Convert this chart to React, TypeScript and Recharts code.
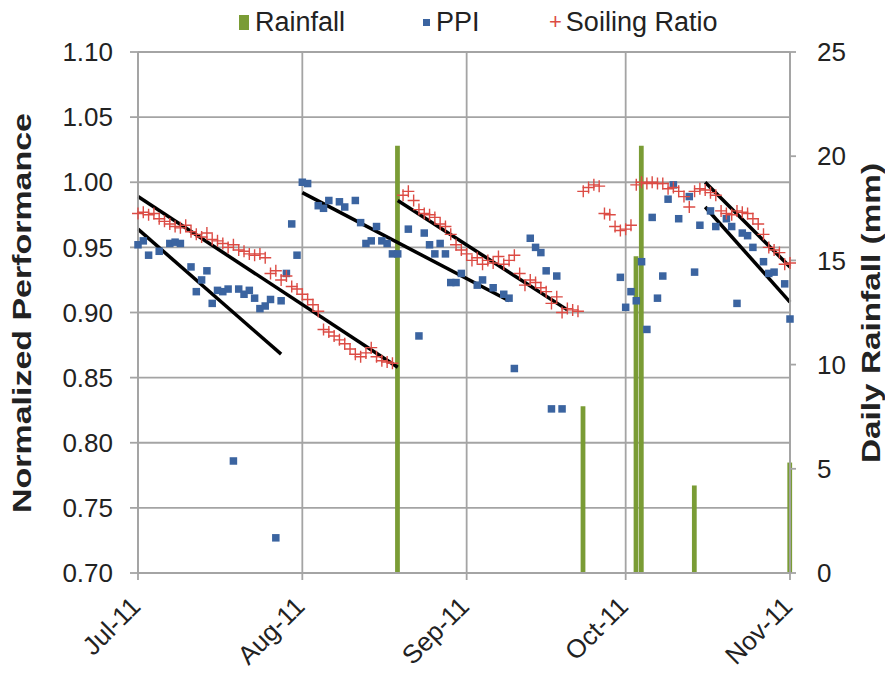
import { ComposedChart, Bar, Scatter, Line, XAxis, YAxis, CartesianGrid, Label } from 'recharts';

// day index 0 = 1 Jul 2011
const MONTH_TICKS = [0, 31, 62, 92, 123];
const MONTH_LABELS = ['Jul-11', 'Aug-11', 'Sep-11', 'Oct-11', 'Nov-11'];
const PERF_TICKS = [0.7, 0.75, 0.8, 0.85, 0.9, 0.95, 1.0, 1.05, 1.1];
const RAIN_TICKS = [0, 5, 10, 15, 20, 25];

const rainDays = [49, 84, 94, 95, 105, 123];
const rainMm = [20.5, 8.0, 15.2, 20.5, 4.2, 5.3];

const ppiDays = [
  0, 1, 2, 4, 6, 7, 8, 10, 11, 12, 13, 14, 15, 16, 17, 18, 19, 20, 21, 22, 23, 24, 25, 26, 27, 28, 29, 30,
  31, 32, 34, 35, 36, 38, 39, 41, 42, 43, 44, 45, 46, 47, 48, 49, 51, 53, 54, 55, 56, 57, 58, 59, 60, 61,
  64, 65, 67, 69, 70, 71, 74, 75, 76, 77, 78, 79, 80,
  91, 92, 93, 94, 95, 96, 97, 98, 99, 100, 101, 102, 104, 105, 106, 108, 109, 111, 112, 113, 114, 115, 116,
  118, 119, 120, 122, 123,
];
const ppiValues = [
  0.952, 0.955, 0.944, 0.947, 0.953, 0.954, 0.953, 0.935, 0.916, 0.925, 0.932, 0.907, 0.917, 0.916, 0.918,
  0.786, 0.918, 0.914, 0.917, 0.911, 0.903, 0.905, 0.91, 0.727, 0.909, 0.93, 0.968, 0.944,
  1.0, 0.999, 0.982, 0.98, 0.986, 0.985, 0.981, 0.986, 0.969, 0.953, 0.955, 0.966, 0.955, 0.953, 0.945, 0.945,
  0.964, 0.882, 0.961, 0.952, 0.945, 0.953, 0.945, 0.923, 0.923, 0.93,
  0.921, 0.925, 0.919, 0.914, 0.911, 0.857, 0.957, 0.95, 0.946, 0.932, 0.826, 0.928, 0.826,
  0.927, 0.904, 0.916, 0.909, 0.939, 0.887, 0.973, 0.911, 0.928, 0.987, 0.998, 0.972, 0.989, 0.931, 0.967,
  0.978, 0.966, 0.972, 0.966, 0.907, 0.961, 0.959, 0.95, 0.939, 0.93, 0.931, 0.922, 0.895,
];

const srDays = [
  0, 1, 2, 3, 4, 5, 6, 7, 8, 9, 10, 11, 12, 13, 14, 15, 16, 17, 18, 19, 20, 21, 22, 23, 24, 25, 26, 27, 28,
  29, 30, 31, 32, 33, 34, 35, 36, 37, 38, 39, 40, 41, 42, 43, 44, 45, 46, 47, 48,
  50, 51, 52, 53, 54, 55, 56, 57, 58, 59, 60, 61, 62, 63, 64, 65, 66, 67, 68, 69, 70, 71, 72, 73, 74, 75,
  76, 77, 78, 79, 80, 81, 82, 83,
  84, 85, 86, 87, 88, 89, 90, 91, 92, 93,
  94, 95, 96, 97, 98, 99, 100, 101, 102, 103, 104, 105, 106, 107, 108, 109, 110, 111, 112, 113, 114, 115,
  116, 117, 118, 119, 120, 121, 122, 123,
];
const srValues = [
  0.976, 0.977, 0.975, 0.976, 0.972, 0.97, 0.968, 0.966, 0.965, 0.967, 0.962, 0.96, 0.958, 0.961, 0.956,
  0.955, 0.953, 0.95, 0.952, 0.948, 0.947, 0.945, 0.944, 0.945, 0.942, 0.93, 0.932, 0.925, 0.928,
  0.92, 0.918, 0.914, 0.91, 0.906, 0.901, 0.887, 0.885, 0.882, 0.879, 0.876, 0.872, 0.868, 0.866, 0.869,
  0.873, 0.866, 0.863, 0.862, 0.861,
  0.99, 0.993, 0.986, 0.979, 0.976, 0.975, 0.973, 0.968, 0.966, 0.96, 0.952, 0.948, 0.945, 0.94, 0.942,
  0.937, 0.94, 0.938, 0.943, 0.937, 0.94, 0.944, 0.93, 0.921, 0.925, 0.923,
  0.919, 0.916, 0.907, 0.912, 0.9, 0.903, 0.902, 0.901,
  0.993, 0.996, 0.998, 0.997, 0.976, 0.975, 0.966, 0.963, 0.964, 0.967,
  0.998, 1.0, 0.999, 1.0, 0.999, 0.999, 0.995, 0.996, 0.993, 0.989, 0.981, 0.993, 0.995, 0.994, 0.992,
  0.99, 0.978, 0.976, 0.975, 0.978, 0.977, 0.976,
  0.972, 0.968, 0.96, 0.95, 0.948, 0.946, 0.937, 0.938,
];

// fitted trend segments [startDay, startValue, endDay, endValue]
const trendPpiJul = [0, 0.964, 27, 0.868];
const trendSrJul = [0, 0.989, 49, 0.858];
const trendPpiAug = [31, 0.992, 70, 0.909];
const trendSrAug = [49, 0.986, 81, 0.902];
const trendSrOct = [107, 1.0, 123, 0.935];
const trendPpiOct = [107, 0.981, 123, 0.908];
const trends = [trendPpiJul, trendSrJul, trendPpiAug, trendSrAug, trendSrOct, trendPpiOct];

const rainData = rainDays.map((day, i) => ({ day, rain: rainMm[i] }));
const ppiData = ppiDays.map((day, i) => ({ day, v: ppiValues[i] }));
const srData = srDays.map((day, i) => ({ day, v: srValues[i] }));

const FONT = '"Liberation Sans", Arial, sans-serif';
const GRID = '#a4a4a4';
const GREEN = '#7a9c35';
const BLUE = '#3b64a0';
const RED = '#dc4b44';

const Square = (props: any) => {
  const { cx, cy } = props;
  if (cx == null || cy == null) return null;
  return <rect x={cx - 3.75} y={cy - 3.75} width={7.5} height={7.5} fill={BLUE} />;
};

const Plus = (props: any) => {
  const { cx, cy } = props;
  if (cx == null || cy == null) return null;
  return (
    <path d={`M${cx - 6},${cy}H${cx + 6}M${cx},${cy - 6}V${cy + 6}`} stroke={RED} strokeWidth={1.4} fill="none" />
  );
};

const MonthTick = (props: any) => {
  const { x, y, payload } = props;
  const label = MONTH_LABELS[MONTH_TICKS.indexOf(payload.value)];
  const ax = x + 4;
  const ay = y + 26;
  return (
    <text x={ax} y={ay} transform={`rotate(-45 ${ax} ${ay})`} textAnchor="end" fontSize={26} fontFamily={FONT} fill="#222">
      {label}
    </text>
  );
};

// Excel stretched the axis titles along the plot height
const LeftTitle = () => (
  <text
    x={31}
    y={313}
    transform="rotate(-90 31 313)"
    textAnchor="middle"
    fontSize={26}
    fontWeight="bold"
    fontFamily={FONT}
    fill="#222"
    textLength={400}
    lengthAdjust="spacingAndGlyphs"
  >
    Normalized Performance
  </text>
);

const RightTitle = () => (
  <text
    x={880}
    y={313}
    transform="rotate(-90 880 313)"
    textAnchor="middle"
    fontSize={26}
    fontWeight="bold"
    fontFamily={FONT}
    fill="#222"
    textLength={300}
    lengthAdjust="spacingAndGlyphs"
  >
    Daily Rainfall (mm)
  </text>
);

const legendItems = [
  { name: 'Rainfall', mark: 'bar', left: 239 },
  { name: 'PPI', mark: 'square', left: 423 },
  { name: 'Soiling Ratio', mark: 'plus', left: 549 },
];

function ChartLegend() {
  return (
    <>
      {legendItems.map(it => (
        <div
          key={it.name}
          style={{
            position: 'absolute',
            top: 6,
            left: it.left,
            display: 'flex',
            alignItems: 'center',
            fontFamily: FONT,
            fontSize: 27,
            color: '#222',
            lineHeight: '32px',
            whiteSpace: 'nowrap',
          }}
        >
          {it.mark === 'bar' && <span style={{ width: 10, height: 15, background: GREEN, marginRight: 6 }} />}
          {it.mark === 'square' && <span style={{ width: 7, height: 7, background: BLUE, marginRight: 6 }} />}
          {it.mark === 'plus' && <span style={{ color: RED, fontSize: 22, marginRight: 4 }}>+</span>}
          {it.name}
        </div>
      ))}
    </>
  );
}

export default function App() {
  return (
    <div style={{ position: 'absolute', left: 0, top: 0, width: 885, height: 677, background: '#fff' }}>
      <ComposedChart width={885} height={677} data={rainData} margin={{ top: 52, right: 0, bottom: 0, left: 0 }}>
        <CartesianGrid yAxisId="perf" stroke={GRID} strokeWidth={1.8} />
        <XAxis
          dataKey="day"
          type="number"
          domain={[0, 123]}
          ticks={MONTH_TICKS}
          interval={0}
          height={104}
          tickSize={7}
          stroke={GRID}
          strokeWidth={1.8}
          tick={<MonthTick />}
        />
        <YAxis
          yAxisId="perf"
          orientation="left"
          width={138}
          type="number"
          domain={[0.7, 1.1]}
          ticks={PERF_TICKS}
          interval={0}
          allowDataOverflow
          tickFormatter={(v: number) => v.toFixed(2)}
          tickSize={8}
          tickMargin={17}
          stroke={GRID}
          strokeWidth={1.8}
          tick={{ fontSize: 26, fontFamily: FONT, fill: '#222' }}
          label={<Label content={LeftTitle} />}
        />
        <YAxis
          yAxisId="rain"
          orientation="right"
          width={95}
          type="number"
          domain={[0, 25]}
          ticks={RAIN_TICKS}
          interval={0}
          tickSize={6}
          tickMargin={21}
          stroke={GRID}
          strokeWidth={1.8}
          tick={{ fontSize: 26, fontFamily: FONT, fill: '#222', textAnchor: 'start' }}
          label={<Label content={RightTitle} />}
        />
        <Bar yAxisId="rain" dataKey="rain" fill={GREEN} barSize={6} isAnimationActive={false} />
        <Scatter yAxisId="perf" data={ppiData} dataKey="v" shape={Square} isAnimationActive={false} />
        <Scatter yAxisId="perf" data={srData} dataKey="v" shape={Plus} isAnimationActive={false} />
        {trends.map((t, i) => (
          <Line
            key={i}
            yAxisId="perf"
            data={[{ day: t[0], v: t[1] }, { day: t[2], v: t[3] }]}
            dataKey="v"
            stroke="#000"
            strokeWidth={3.5}
            dot={false}
            activeDot={false}
            legendType="none"
            isAnimationActive={false}
          />
        ))}
      </ComposedChart>
      <ChartLegend />
    </div>
  );
}
